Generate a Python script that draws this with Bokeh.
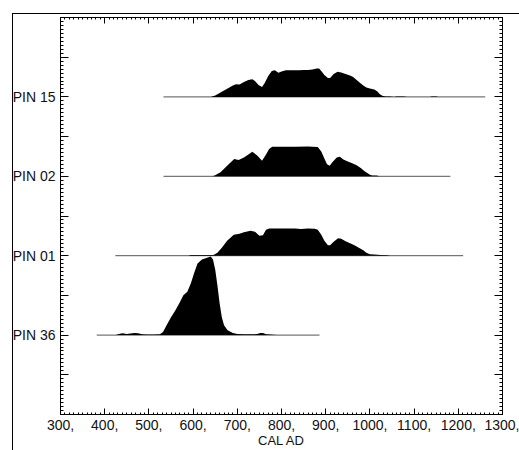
from bokeh.plotting import figure
from bokeh.models import FixedTicker, LinearAxis, Range1d, CustomJSTickFormatter
from bokeh.embed import file_html
from bokeh.resources import INLINE

# ---------------- data ----------------
samples = ["PIN 36", "PIN 01", "PIN 02", "PIN 15"]          # bottom -> top
sample_rows = [1, 2, 3, 4]

# calibrated range (start, end) of each sample's line, cal AD
pin36_range = [382, 886]
pin01_range = [424, 1211]
pin02_range = [533, 1182]
pin15_range = [533, 1261]

# relative probability (arbitrary units) by calendar year
pin36_years = [425, 432, 440, 450, 458, 468, 475, 485, 495, 510, 525, 532, 540, 550, 560, 570,
               578, 587, 595, 602, 610, 620, 630, 640, 645, 650, 655, 660, 665, 670, 678, 690,
               700, 715, 730, 745, 752, 758, 765, 775, 790]
pin36_prob = [0, 1, 1.8, 1.2, 1.5, 2, 1.8, 0.8, 0.5, 0.5, 0.8, 3, 10, 18, 25, 33,
              40, 43.5, 52, 62, 72, 76, 77.5, 79, 76, 66, 50, 32, 18, 10, 5, 2,
              1.2, 0.8, 0.8, 1, 2.2, 2, 0.8, 0.5, 0]

pin01_years = [590, 594, 620, 646, 655, 665, 677, 692, 705, 715, 730, 740, 750, 758, 765, 772,
               800, 830, 844, 860, 875, 882, 890, 897, 905, 910, 918, 928, 935, 945, 955, 965,
               975, 985, 992, 1000, 1010, 1025, 1040, 1045]
pin01_prob = [0, 0.8, 0.8, 0.8, 3, 8, 15, 21, 22, 23.5, 25, 24, 20, 20.5, 26, 27.4,
              27.4, 27.4, 26.8, 27.3, 27, 26, 21, 15, 10.5, 10.5, 14, 17.5, 17, 14.5, 12.5, 10.5,
              8, 5.5, 3, 1.5, 1.2, 0.7, 0.5, 0]

pin02_years = [644, 650, 662, 677, 693, 703, 715, 725, 734, 745, 756, 765, 772, 779, 800, 830,
               860, 882, 890, 897, 903, 909, 915, 925, 932, 940, 950, 960, 970, 980, 988, 995,
               1000, 1005, 1015, 1022]
pin02_prob = [0, 1, 4, 10.7, 17.3, 16.5, 19, 22, 24.7, 21, 15.7, 22, 27.5, 29.7, 29.8, 29.8,
              30, 29.5, 25, 18, 12, 10.5, 14, 19, 19.7, 17, 15, 13, 11, 8, 5, 3,
              1.5, 0.8, 0.8, 0]

pin15_years = [640, 650, 660, 670, 680, 690, 697, 705, 715, 725, 734, 740, 748, 756, 762, 770,
               778, 785, 793, 800, 810, 820, 830, 840, 850, 860, 870, 880, 885, 890, 897, 905,
               910, 918, 927, 935, 945, 955, 962, 970, 978, 985, 992, 1000, 1010, 1017, 1022,
               1028, 1035, 1045, 1055, 1060, 1075, 1085, 1135, 1140, 1150, 1155]
pin15_prob = [0, 1.5, 4, 6.5, 9, 11.5, 12.7, 12.5, 15, 17, 17.7, 16, 12, 10, 14, 21,
              26, 26.7, 24.3, 25.5, 26.7, 26.8, 26.8, 26.7, 27, 27, 27.5, 28.5, 28.5, 26, 22, 19,
              19, 23, 25.3, 24.5, 23, 21.5, 20, 17, 14, 11.5, 9.5, 8.5, 7.5, 5.5, 3,
              1.2, 0.5, 0.3, 0, 0.4, 0.4, 0, 0, 0.5, 0.5, 0]

x_ticks = [300, 400, 500, 600, 700, 800, 900, 1000, 1100, 1200, 1300]
x_minor = list(range(300, 1301, 10))
y_ticks = [0.5, 1, 1.5, 2, 2.5, 3, 3.5, 4, 4.5]
y_minor = [i * 0.05 for i in range(0, 101)]
x_label = "CAL AD"

PROB_SCALE = 1 / 79.8   # relative probability -> row height

# ---------------- figure ----------------
FONT = "Liberation Sans"
p = figure(width=510, height=437, x_range=Range1d(300, 1300), y_range=Range1d(0, 5),
           output_backend="svg", toolbar_location=None,
           min_border_left=40, min_border_right=17, min_border_top=4, min_border_bottom=36,
           margin=(13, 0, 0, 9))
# outer page frame (left and top edges) drawn behind a transparent canvas border
p.styles = {
    "background": "linear-gradient(#000, #000) 3px 0 / 1px 100% no-repeat, "
                  "linear-gradient(#000, #000) 3px 0 / 100% 1px no-repeat",
}
p.grid.visible = False
p.outline_line_color = "black"
p.outline_line_width = 1
p.background_fill_color = "white"
p.border_fill_color = None

ranges = [pin36_range, pin01_range, pin02_range, pin15_range]
years = [pin36_years, pin01_years, pin02_years, pin15_years]
probs = [pin36_prob, pin01_prob, pin02_prob, pin15_prob]
for row, rng, yrs, pr in zip(sample_rows, ranges, years, probs):
    p.line(x=rng, y=[row, row], line_color="#555555", line_width=1)
    p.varea(x=yrs, y1=[row] * len(yrs), y2=[row + v * PROB_SCALE for v in pr],
            fill_color="black")

x_ticker = FixedTicker(ticks=x_ticks, minor_ticks=x_minor)
y_ticker = FixedTicker(ticks=y_ticks, minor_ticks=y_minor)

xa = p.xaxis[0]
xa.ticker = x_ticker
xa.major_label_overrides = {t: f"{t}," for t in x_ticks}
xa.axis_label = x_label
ya = p.yaxis[0]
ya.ticker = y_ticker
ya.major_label_overrides = {t: "" for t in y_ticks}
ya.major_label_overrides.update({r: s for r, s in zip(sample_rows, samples)})

top = LinearAxis(ticker=x_ticker, formatter=CustomJSTickFormatter(code="return ''"))
right = LinearAxis(ticker=y_ticker, formatter=CustomJSTickFormatter(code="return ''"))
p.add_layout(top, "above")
p.add_layout(right, "right")

for ax in [xa, top]:
    ax.major_tick_in = 6
    ax.minor_tick_in = 2
for ax in [ya, right]:
    ax.major_tick_in = 8
    ax.minor_tick_in = 3
for ax in [xa, ya, top, right]:
    ax.major_tick_out = 0
    ax.minor_tick_out = 0
    ax.axis_line_color = "black"
    ax.major_tick_line_color = "black"
    ax.minor_tick_line_color = "black"
    ax.major_label_text_font = FONT
    ax.major_label_text_font_size = "14px"
    ax.major_label_text_color = "#111111"
    ax.axis_label_text_font = FONT
    ax.axis_label_text_font_size = "13px"
    ax.axis_label_text_font_style = "normal"
    ax.axis_label_text_color = "#111111"
for ax in [top, right]:
    ax.major_label_standoff = 0
    ax.major_label_text_font_size = "1px"
xa.major_label_standoff = 5
xa.axis_label_standoff = 0
ya.major_label_standoff = 5

open("out.html", "w").write(file_html(p, INLINE))
